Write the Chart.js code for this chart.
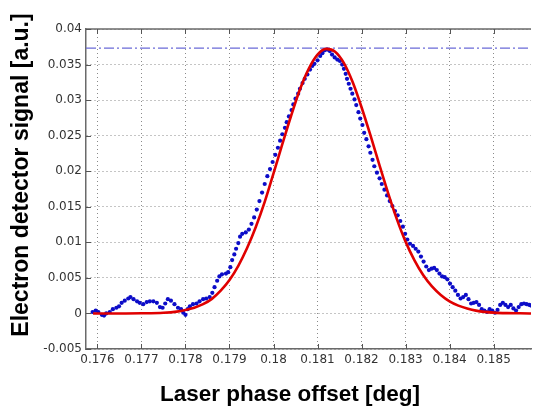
<!DOCTYPE html>
<html>
<head>
<meta charset="utf-8">
<script src="https://cdn.jsdelivr.net/npm/chart.js@4.4.0/dist/chart.umd.min.js"></script>
<style>
  body { margin: 0; background: #fff; }
  #wrap { width: 535px; height: 407px; }
</style>
</head>
<body>
<div id="wrap"><canvas id="scan" width="535" height="407"></canvas></div>
<script>
// axis ticks
const xTicks = [0.176, 0.177, 0.178, 0.179, 0.18, 0.181, 0.182, 0.183, 0.184, 0.185]
const xTickLabels = ['0.176', '0.177', '0.178', '0.179', '0.18', '0.181', '0.182', '0.183', '0.184', '0.185']
const yTicks = [-0.005, 0, 0.005, 0.01, 0.015, 0.02, 0.025, 0.03, 0.035, 0.04]
const yTickLabels = ['-0.005', '0', '0.005', '0.01', '0.015', '0.02', '0.025', '0.03', '0.035', '0.04']
const xRange = [0.17574, 0.18585]
const yRange = [-0.005, 0.04]

const xTitle = 'Laser phase offset [deg]'
const yTitle = 'Electron detector signal [a.u.]'

// measured detector signal (blue dots)
const scanX = [
  0.17589, 0.17596, 0.17602, 0.1761, 0.17615, 0.1762, 0.17628, 0.17635, 0.17643, 0.17649,
  0.17655, 0.17662, 0.1767, 0.17675, 0.17682, 0.1769, 0.17696, 0.17704, 0.17712, 0.17719,
  0.17727, 0.17735, 0.17742, 0.17748, 0.17754, 0.1776, 0.17767, 0.17775, 0.17783, 0.1779,
  0.17795, 0.178, 0.17805, 0.1781, 0.17817, 0.17825, 0.17832, 0.1784, 0.17847, 0.17855,
  0.17861, 0.17866, 0.17872, 0.17877, 0.17883, 0.17892, 0.17897, 0.17902, 0.17906, 0.17911,
  0.17915, 0.1792, 0.17924, 0.17929, 0.17937, 0.17944, 0.1795, 0.17956, 0.17962, 0.17968,
  0.17974, 0.1798, 0.17986, 0.17992, 0.17998, 0.18004, 0.1801, 0.18015, 0.1802, 0.18026,
  0.1803, 0.18035, 0.18041, 0.18045, 0.1805, 0.18056, 0.1806, 0.18066, 0.18071, 0.18077,
  0.18083, 0.18088, 0.18093, 0.181, 0.18106, 0.18111, 0.18116, 0.18122, 0.18128, 0.18133,
  0.18139, 0.18145, 0.18151, 0.18156, 0.1816, 0.18164, 0.18167, 0.18171, 0.18175, 0.18179,
  0.18184, 0.18188, 0.18193, 0.18197, 0.18202, 0.18206, 0.18211, 0.18216, 0.1822, 0.18225,
  0.18229, 0.18235, 0.18241, 0.18246, 0.18252, 0.18258, 0.18264, 0.1827, 0.18276, 0.18282,
  0.18288, 0.18294, 0.18299, 0.18304, 0.1831, 0.18317, 0.18323, 0.18329, 0.18335, 0.18341,
  0.18347, 0.18353, 0.18359, 0.18365, 0.18371, 0.18377, 0.18383, 0.18389, 0.18395, 0.18401,
  0.18407, 0.18413, 0.18419, 0.18425, 0.18431, 0.18437, 0.18443, 0.18449, 0.18455, 0.18461,
  0.18467, 0.18473, 0.18479, 0.18485, 0.18491, 0.18497, 0.18503, 0.18509, 0.18515, 0.18521,
  0.18527, 0.18533, 0.18539, 0.18545, 0.18551, 0.18557, 0.18563, 0.18569, 0.18575, 0.18581,
  0.18585
]
const scanY = [
  0.0002, 0.0004, 0.0002, -0.0002, -0.0003, 0.0, 0.0002, 0.0006, 0.0008, 0.001,
  0.0015, 0.0018, 0.0021, 0.0023, 0.002, 0.0017, 0.0015, 0.0013, 0.0016, 0.0017,
  0.0017, 0.0015, 0.0009, 0.0008, 0.0014, 0.002, 0.0018, 0.0013, 0.0008, 0.0006,
  0.0001, -0.0002, 0.0006, 0.001, 0.0013, 0.0014, 0.0017, 0.002, 0.0021, 0.0023,
  0.0029, 0.0037, 0.0046, 0.0052, 0.0055, 0.0056, 0.0058, 0.0065, 0.0075, 0.0083,
  0.0091, 0.0099, 0.0108, 0.0112, 0.0114, 0.0118, 0.0126, 0.0135, 0.0146, 0.0158,
  0.017, 0.0182, 0.0193, 0.0203, 0.0213, 0.0223, 0.0233, 0.0243, 0.0252, 0.0261,
  0.0269, 0.0277, 0.0286, 0.0294, 0.0302, 0.0309, 0.0316, 0.0324, 0.033, 0.0336,
  0.0343, 0.0348, 0.0351, 0.0356, 0.0362, 0.0366, 0.037, 0.0371, 0.0369, 0.0364,
  0.036, 0.0357, 0.0355, 0.035, 0.0344, 0.0337, 0.033, 0.0323, 0.0316, 0.0309,
  0.0301, 0.0293, 0.0283, 0.0274, 0.0265, 0.0254, 0.0245, 0.0235, 0.0226, 0.0216,
  0.0207, 0.0198, 0.019, 0.0182, 0.0174, 0.0166, 0.0158, 0.0151, 0.0144, 0.0138,
  0.013, 0.0122, 0.0112, 0.0104, 0.0098, 0.0095, 0.0091, 0.0087, 0.008, 0.0073,
  0.0066, 0.0061, 0.0063, 0.0064, 0.0061, 0.0056, 0.0052, 0.0051, 0.0048, 0.0042,
  0.0037, 0.0032, 0.0026, 0.0021, 0.0023, 0.0026, 0.002, 0.0014, 0.0015, 0.0016,
  0.0012, 0.0006, 0.0004, 0.0002, 0.0006, 0.0004, 0.0001, 0.0005, 0.0012, 0.0015,
  0.0012, 0.0009, 0.0012, 0.0007, 0.0004, 0.0009, 0.0013, 0.0014, 0.0013, 0.0012,
  0.0011
]

// fitted curve (red)
const fitX = [
  0.1759, 0.1765, 0.177, 0.1775, 0.1778, 0.178, 0.1782, 0.1784, 0.1786, 0.1788,
  0.179, 0.1792, 0.1794, 0.1796, 0.1798, 0.18, 0.1802, 0.1804, 0.1806, 0.1808,
  0.181, 0.1812, 0.1814, 0.1816, 0.1818, 0.182, 0.1822, 0.1824, 0.1826, 0.1828,
  0.183, 0.1832, 0.1834, 0.1836, 0.1838, 0.184, 0.1842, 0.1844, 0.1846, 0.1848,
  0.185, 0.1853, 0.1856, 0.18585
]
const fitY = [
  0, 0, 0.00002, 0.0001, 0.00026, 0.00048, 0.0008, 0.0013, 0.00205, 0.0032,
  0.0047, 0.0067, 0.0092, 0.0122, 0.0157, 0.0197, 0.0238, 0.0278, 0.0315, 0.0344,
  0.0364, 0.0372, 0.0368, 0.0352, 0.0325, 0.029, 0.0251, 0.021, 0.017, 0.0133,
  0.0101, 0.0075, 0.0054, 0.0038, 0.0026, 0.0017, 0.0011, 0.0007, 0.0004, 0.00022,
  0.00012, 0.00005, 0.00002, 0
]

// peak level marker (dash-dot)
const peakLevel = 0.0373

const pts = (xs, ys) => xs.map((v, i) => ({ x: v, y: ys[i] }))

/* draws the top frame line, the inward tick marks and the two axis titles */
const frame = {
  id: 'frame',
  afterDraw(chart) {
    const { ctx, chartArea: a, scales: { x, y } } = chart
    ctx.save()
    ctx.strokeStyle = '#6a6a6a'
    ctx.lineWidth = 1.5
    ctx.beginPath()
    ctx.moveTo(a.left, a.top)
    ctx.lineTo(a.right, a.top)
    ctx.stroke()

    ctx.strokeStyle = '#555'
    ctx.lineWidth = 1
    ctx.beginPath()
    xTicks.forEach(v => {
      const px = Math.round(x.getPixelForValue(v)) + 0.5
      ctx.moveTo(px, a.bottom)
      ctx.lineTo(px, a.bottom - 5)
      ctx.moveTo(px, a.top)
      ctx.lineTo(px, a.top + 5)
    })
    yTicks.forEach(v => {
      const py = Math.round(y.getPixelForValue(v)) + 0.5
      ctx.moveTo(a.left, py)
      ctx.lineTo(a.left + 5, py)
    })
    ctx.stroke()

    ctx.fillStyle = '#000'
    ctx.textAlign = 'center'
    ctx.textBaseline = 'alphabetic'
    ctx.font = 'bold 22.5px "Liberation Sans", Arial, sans-serif'
    ctx.fillText(xTitle, 290, 401)
    ctx.translate(28, 175)
    ctx.rotate(-Math.PI / 2)
    ctx.font = 'bold 23px "Liberation Sans", Arial, sans-serif'
    ctx.fillText(yTitle, 0, 0)
    ctx.restore()
  }
}

const tickFont = { family: '"DejaVu Sans", sans-serif', size: 12 }

let ctx = document.querySelector('#scan').getContext('2d')

let scanChart = new Chart(ctx, {
  type: 'scatter',
  data: {
    datasets: [
      {
        data: pts(fitX, fitY),
        showLine: true,
        borderColor: '#e00000',
        borderWidth: 2.6,
        pointRadius: 0,
        cubicInterpolationMode: 'monotone'
      },
      {
        data: pts(scanX, scanY),
        showLine: false,
        pointRadius: 2.1,
        pointBorderWidth: 0,
        backgroundColor: '#0c0cc8'
      },
      {
        data: pts(xRange, [peakLevel, peakLevel]),
        showLine: true,
        borderColor: '#6b6bd8',
        borderWidth: 1.2,
        borderDash: [10, 3, 2, 3],
        pointRadius: 0
      }
    ]
  },
  options: {
    responsive: false,
    animation: false,
    layout: { padding: { top: 29, left: 0, right: 0, bottom: 0 } },
    plugins: { legend: { display: false }, tooltip: { enabled: false } },
    scales: {
      x: {
        type: 'linear',
        min: xRange[0],
        max: xRange[1],
        afterBuildTicks: s => { s.ticks = xTicks.map(v => ({ value: v })) },
        afterFit: s => { s.height = 58 },
        ticks: {
          callback: (v, i) => xTickLabels[i],
          autoSkip: false,
          maxRotation: 0,
          font: tickFont,
          color: '#333',
          padding: 4
        },
        grid: { color: '#8a8a8a', lineWidth: 1, drawTicks: false },
        border: { color: '#6a6a6a', width: 1.5, dash: [1, 3] }
      },
      y: {
        min: yRange[0],
        max: yRange[1],
        afterBuildTicks: s => { s.ticks = yTicks.map(v => ({ value: v })) },
        afterFit: s => { s.width = 86 },
        ticks: {
          callback: (v, i) => yTickLabels[i],
          autoSkip: false,
          font: tickFont,
          color: '#333',
          padding: 4
        },
        grid: { color: '#8a8a8a', lineWidth: 1, drawTicks: false },
        border: { color: '#6a6a6a', width: 1.5, dash: [1, 3] }
      }
    }
  },
  plugins: [frame]
})
</script>
</body>
</html>
